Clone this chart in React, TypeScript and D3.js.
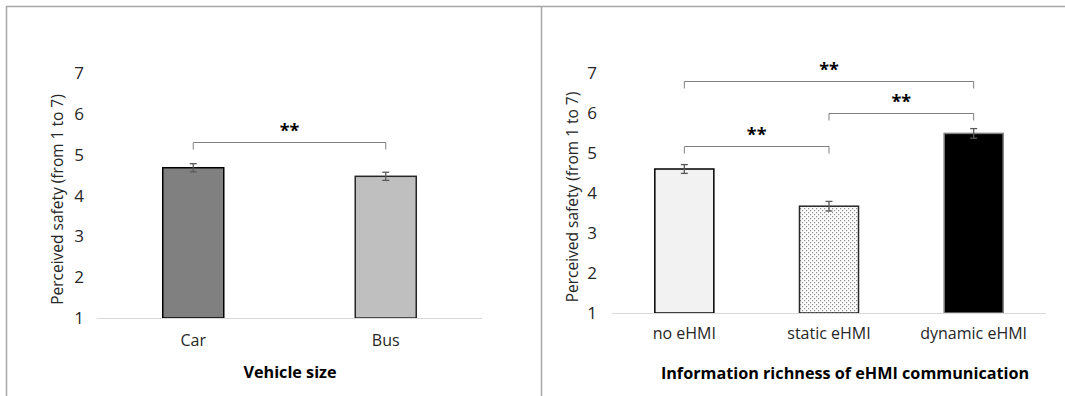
import React, { useEffect, useRef } from 'react'
import * as d3 from 'd3'

// left panel: vehicle size
const vehicleCategories = ['Car', 'Bus']
const vehicleMeans = [4.68, 4.47]
const vehicleErrors = [0.1, 0.1]
// pairs of bar index, value where the bracket sits
const vehicleBrackets = [{ from: 0, to: 1, at: 5.3, label: '**' }]

// right panel: eHMI information richness
const ehmiCategories = ['no eHMI', 'static eHMI', 'dynamic eHMI']
const ehmiMeans = [4.6, 3.67, 5.49]
const ehmiErrors = [0.11, 0.12, 0.12]
const ehmiBrackets = [
  { from: 0, to: 2, at: 6.8, label: '**' },
  { from: 1, to: 2, at: 6.0, label: '**' },
  { from: 0, to: 1, at: 5.17, label: '**' },
]

const yTicks = [1, 2, 3, 4, 5, 6, 7]
const yTitle = 'Perceived safety (from 1 to 7)'

const font = '"Open Sans", "Noto Sans", sans-serif'
const width = 1065
const height = 396

const panels = [
  {
    categories: vehicleCategories,
    means: vehicleMeans,
    errors: vehicleErrors,
    brackets: vehicleBrackets,
    xTitle: 'Vehicle size',
    fills: ['#808080', '#bfbfbf'],
    strokes: ['#000', '#262626'],
    x: [97, 482],
    y: [318, 73],
    gap: 0.683,
    tickX: 84,
    yTitleX: 57,
    catY: 346,
    xTitleY: 378,
    xTitleX: 290,
  },
  {
    categories: ehmiCategories,
    means: ehmiMeans,
    errors: ehmiErrors,
    brackets: ehmiBrackets,
    xTitle: 'Information richness of eHMI communication',
    fills: ['#f2f2f2', 'url(#dots)', '#000'],
    strokes: ['#000', '#262626', '#7f7f7f'],
    x: [612, 1046],
    y: [313, 73],
    gap: 0.592,
    tickX: 597,
    yTitleX: 572,
    catY: 339,
    xTitleY: 379,
    xTitleX: 845,
  },
]

function drawPanel(svg, p) {
  const x = d3
    .scaleBand()
    .domain(p.categories)
    .range(p.x)
    .paddingInner(p.gap)
    .paddingOuter(p.gap / 2)
  const y = d3.scaleLinear().domain([1, 7]).range(p.y)
  const g = svg.append('g')

  // y tick labels
  g.selectAll('.tick')
    .data(yTicks)
    .enter()
    .append('text')
    .attr('x', p.tickX)
    .attr('y', d => y(d))
    .attr('dy', '0.36em')
    .attr('text-anchor', 'end')
    .style('font-size', '17px')
    .style('fill', '#262626')
    .text(d => d)

  g.append('text')
    .attr('transform', `translate(${p.yTitleX},${(p.y[0] + p.y[1]) / 2 + 4}) rotate(-90)`)
    .attr('text-anchor', 'middle')
    .attr('dy', '0.36em')
    .style('font-size', '15.5px')
    .style('fill', '#262626')
    .text(yTitle)

  const data = p.categories.map((c, i) => ({
    c,
    v: p.means[i],
    e: p.errors[i],
    fill: p.fills[i],
    stroke: p.strokes[i],
  }))

  g.selectAll('.bar')
    .data(data)
    .enter()
    .append('rect')
    .attr('x', d => x(d.c))
    .attr('y', d => y(d.v))
    .attr('width', x.bandwidth())
    .attr('height', d => y(1) - y(d.v))
    .style('fill', d => d.fill)
    .style('stroke', d => d.stroke)
    .style('stroke-width', 1.5)

  // baseline
  g.append('line')
    .attr('x1', p.x[0])
    .attr('x2', p.x[1])
    .attr('y1', y(1) + 0.5)
    .attr('y2', y(1) + 0.5)
    .style('stroke', '#d9d9d9')
    .style('stroke-width', 1.2)

  // error bars
  const eb = g
    .selectAll('.err')
    .data(data)
    .enter()
    .append('g')
    .attr('transform', d => `translate(${x(d.c) + x.bandwidth() / 2},0)`)
    .style('stroke', '#595959')
    .style('stroke-width', 1.3)
  eb.append('line').attr('y1', d => y(d.v + d.e)).attr('y2', d => y(d.v - d.e))
  eb.append('line').attr('x1', -3.5).attr('x2', 3.5).attr('y1', d => y(d.v + d.e)).attr('y2', d => y(d.v + d.e))
  eb.append('line').attr('x1', -3.5).attr('x2', 3.5).attr('y1', d => y(d.v - d.e)).attr('y2', d => y(d.v - d.e))

  // category labels
  g.selectAll('.cat')
    .data(p.categories)
    .enter()
    .append('text')
    .attr('x', d => x(d) + x.bandwidth() / 2)
    .attr('y', p.catY)
    .attr('text-anchor', 'middle')
    .style('font-size', '16px')
    .style('fill', '#262626')
    .text(d => d)

  g.append('text')
    .attr('x', p.xTitleX)
    .attr('y', p.xTitleY)
    .attr('text-anchor', 'middle')
    .style('font-size', '16.2px')
    .style('font-weight', 'bold')
    .style('fill', '#000')
    .text(p.xTitle)

  // significance brackets
  const cx = i => x(p.categories[i]) + x.bandwidth() / 2
  const br = g.selectAll('.br').data(p.brackets).enter().append('g')
  br.append('path')
    .attr('d', d => {
      const yy = Math.round(y(d.at)) + 0.5
      return `M${cx(d.from)},${yy + 7}V${yy}H${cx(d.to)}V${yy + 7}`
    })
    .style('fill', 'none')
    .style('stroke', '#808080')
    .style('stroke-width', 1)
  br.append('text')
    .attr('x', d => (cx(d.from) + cx(d.to)) / 2)
    .attr('y', d => y(d.at) - 5)
    .attr('text-anchor', 'middle')
    .style('font-size', '18px')
    .style('font-weight', 'bold')
    .style('fill', '#000')
    .text(d => d.label)
}

export default function App() {
  const ref = useRef(null)

  useEffect(() => {
    const svg = d3.select(ref.current)
    svg.selectAll('*').remove()
    svg.style('font-family', font)

    const pattern = svg
      .append('defs')
      .append('pattern')
      .attr('id', 'dots')
      .attr('patternUnits', 'userSpaceOnUse')
      .attr('width', 4)
      .attr('height', 4)
    pattern.append('rect').attr('width', 4).attr('height', 4).style('fill', '#fff')
    pattern.append('rect').attr('x', 0).attr('y', 0).attr('width', 1.2).attr('height', 1.2).style('fill', '#8c8c8c')
    pattern.append('rect').attr('x', 2).attr('y', 2).attr('width', 1.2).attr('height', 1.2).style('fill', '#8c8c8c')

    // frame lines of the two figure boxes
    svg.append('path')
      .attr('d', `M6.5,${height}V6.5H${width}M541.5,6.5V${height}`)
      .style('fill', 'none')
      .style('stroke', '#a6a6a6')
      .style('stroke-width', 1.5)

    panels.forEach(p => drawPanel(svg, p))
  }, [])

  return (
    <svg
      ref={ref}
      width={width}
      height={height}
      style={{ position: 'absolute', left: 0, top: 0, background: '#fff' }}
    />
  )
}
